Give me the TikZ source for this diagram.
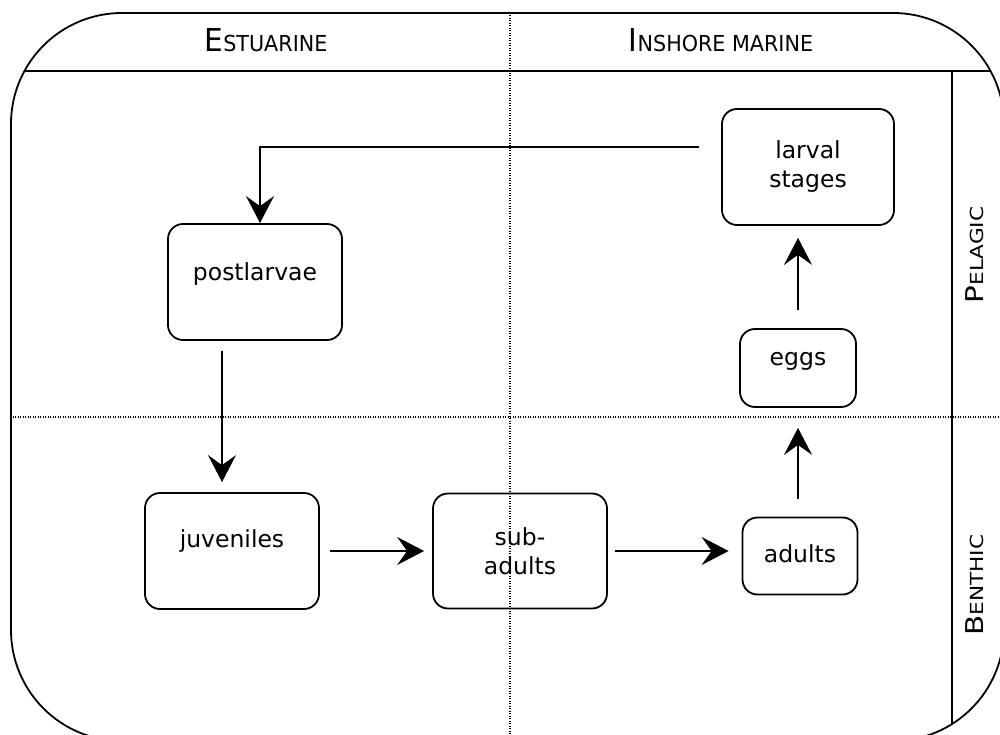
\documentclass[tikz,border=0pt]{standalone}
\usepackage{fontspec}
\usepackage{graphicx}
\setmainfont{DejaVu Sans}
\usetikzlibrary{arrows.meta}
\begin{document}
\begin{tikzpicture}[x=1pt,y=-1pt,
  stagebox/.style={draw, line width=1.8pt, rounded corners=15pt, align=center,
    font=\fontsize{23.5}{29}\selectfont, inner sep=0pt},
  arr/.style={-{Stealth[length=27pt,width=28pt,inset=10pt]}, line width=1.6pt},
  gridline/.style={line width=1.1pt, dash pattern=on 1pt off 1.5pt},
  frameline/.style={line width=1.8pt},
  hdr/.style={inner sep=0pt, anchor=base},
]
\useasboundingbox (0,0) rectangle (1000,735);
\begin{scope}
  \clip (0,0) rectangle (1000,735);
  \begin{scope}
    \clip[rounded corners=111pt] (11,13) rectangle (1004,741);
    \draw[frameline] (0,71) -- (1000,71);
    \draw[frameline] (952,71) -- (952,741);
    \draw[gridline] (510,13) -- (510,741);
    \draw[gridline] (0,417) -- (1000,417);
  \end{scope}
  \draw[frameline, rounded corners=111pt] (11,13) rectangle (1004,741);
\end{scope}

% headers
\node[hdr] (est) at (266,52) {\scalebox{0.94}[1]{{\fontsize{31.5}{32}\selectfont E}{\fontsize{22}{24}\selectfont STUARINE}}};
\node[hdr] (ins) at (721,52) {\scalebox{0.94}[1]{{\fontsize{31.5}{32}\selectfont I}{\fontsize{22}{24}\selectfont NSHORE MARINE}}};
\node[hdr, rotate=90] (pel) at (983,255) {\scalebox{1.2}[1]{{\fontsize{24.5}{26}\selectfont P}{\fontsize{18}{20}\selectfont ELAGIC}}};
\node[hdr, rotate=90] (ben) at (983,585) {\scalebox{1.2}[1]{{\fontsize{24.5}{26}\selectfont B}{\fontsize{18}{20}\selectfont ENTHIC}}};

% stages
\node[stagebox, minimum width=172pt, minimum height=116pt] (larval) at (808,167) {larval\\stages};
\node[stagebox, minimum width=174pt, minimum height=116pt, text height=18pt, text depth=22pt] (post) at (255,282) {postlarvae};
\node[stagebox, minimum width=116pt, minimum height=78pt, text height=18pt, text depth=24pt] (eggs) at (798,368) {eggs};
\node[stagebox, minimum width=174pt, minimum height=116pt, text height=18pt, text depth=26pt] (juv) at (232,551) {juveniles};
\node[stagebox, minimum width=174pt, minimum height=115pt] (sub) at (520,551) {sub-\\adults};
\node[stagebox, minimum width=115pt, minimum height=77pt, text height=18pt, text depth=5pt] (adults) at (800,556) {adults};

% connectors
\draw[arr] ([xshift=-22pt,yshift=20pt]larval.west) -| ([xshift=5pt]post.north);
\draw[arr] ([xshift=-33pt,yshift=-10pt]post.south) -- ([xshift=-10pt,yshift=10pt]juv.north);
\draw[arr, shorten <=10pt, shorten >=8pt] (juv.east) -- (juv.east -| sub.west);
\draw[arr, shorten <=7pt, shorten >=13pt] (sub.east) -- (sub.east -| adults.west);
\draw[arr, shorten <=18pt, shorten >=20pt] ([xshift=-2pt]adults.north) -- (eggs.south);
\draw[arr, shorten <=18pt, shorten >=12pt] (eggs.north) -- (eggs.north |- larval.south);
\end{tikzpicture}
\end{document}
